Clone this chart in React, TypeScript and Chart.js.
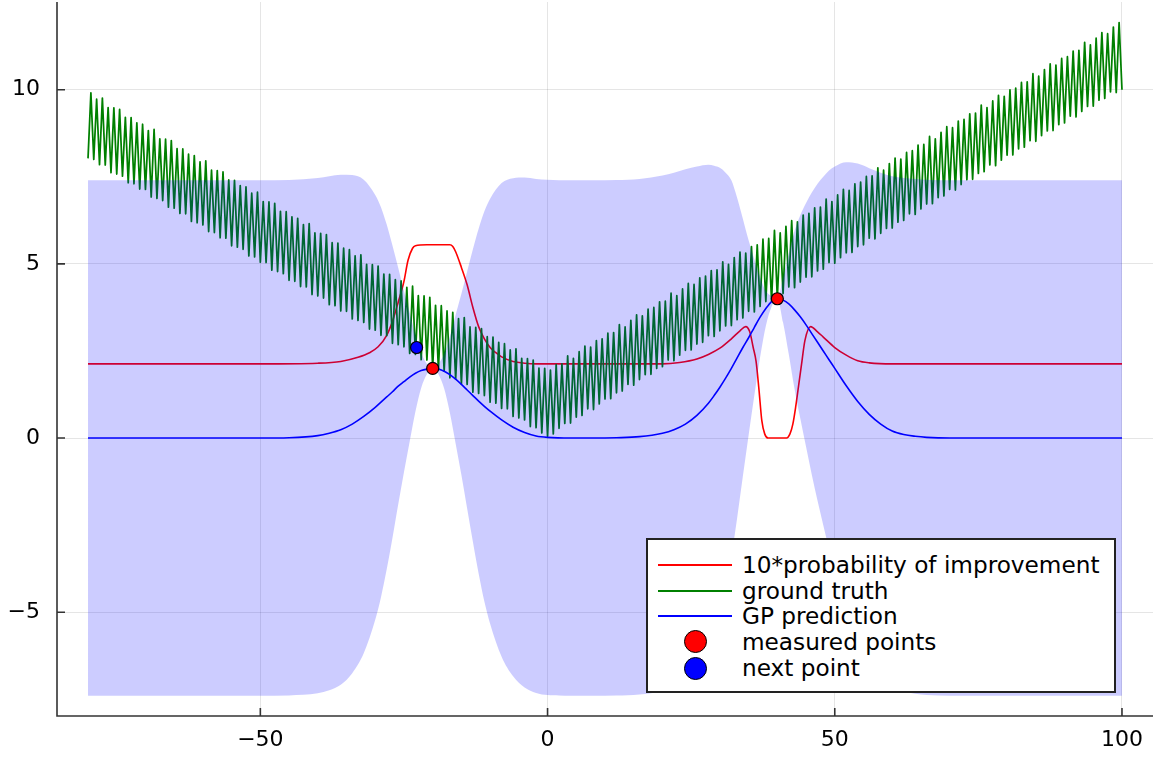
import React, { useEffect, useRef } from "react";
import { Chart, registerables } from "chart.js";

Chart.register(...registerables);

// ---- axis ranges / ticks ----
const X_MIN = -85.4;
const X_MAX = 105.4;
const Y_MIN = -7.98;
const Y_MAX = 12.52;
const X_TICKS = [-50, 0, 50, 100];
const Y_TICKS = [-5, 0, 5, 10];

// ---- GP prediction (mean and ribbon half-width) ----
const GP_X = [
  -80, -60, -50, -45, -40, -38, -36, -34, -32, -30,
  -29, -28, -27, -26, -25, -24, -23, -22, -21, -20,
  -19, -18, -17, -16, -15, -14, -13, -12, -11, -10,
  -8, -6, -4, -2, 0, 4, 8, 12, 16, 20,
  22, 24, 26, 28, 29, 30, 31, 32, 33, 34,
  35, 36, 37, 38, 39, 40, 41, 42, 43, 44,
  45, 46, 47, 48, 49, 50, 52, 54, 56, 58,
  60, 62, 64, 66, 70, 80, 100,
];
const GP_MEAN = [
  0, 0, 0, 0.01, 0.07, 0.14, 0.24, 0.4, 0.62, 0.88,
  1.03, 1.18, 1.33, 1.49, 1.62, 1.75, 1.86, 1.94, 1.98, 2.0,
  1.98, 1.92, 1.82, 1.69, 1.54, 1.38, 1.22, 1.06, 0.91, 0.77,
  0.52, 0.31, 0.16, 0.06, 0.02, 0, 0, 0.01, 0.04, 0.14,
  0.24, 0.4, 0.65, 1.0, 1.22, 1.46, 1.72, 2.0, 2.3, 2.6,
  2.88, 3.18, 3.47, 3.72, 3.92, 4.0, 3.96, 3.85, 3.68, 3.48,
  3.25, 3.0, 2.75, 2.5, 2.25, 2.0, 1.5, 1.05, 0.68, 0.4,
  0.2, 0.1, 0.05, 0.02, 0, 0, 0,
];
const GP_RIBBON = [
  7.4, 7.4, 7.4, 7.4, 7.4, 7.38, 7.32, 7.15, 6.8, 6.1,
  5.6, 4.95, 4.2, 3.4, 2.6, 1.85, 1.1, 0.5, 0.15, 0,
  0.15, 0.5, 1.1, 1.85, 2.6, 3.4, 4.2, 4.95, 5.6, 6.1,
  6.8, 7.15, 7.32, 7.38, 7.4, 7.4, 7.4, 7.4, 7.4, 7.4,
  7.38, 7.32, 7.15, 6.85, 6.6, 6.3, 5.9, 5.4, 4.6, 3.7,
  2.8, 1.95, 1.15, 0.5, 0.15, 0, 0.64, 1.45, 2.27, 2.92,
  3.5, 4.05, 4.55, 5.0, 5.43, 5.8, 6.42, 6.83, 7.07, 7.22,
  7.32, 7.37, 7.39, 7.4, 7.4, 7.4, 7.4,
];

// ---- 10 * probability of improvement ----
const PI_X = [
  -80, -50, -40, -36, -33, -31, -29.5, -28, -27, -26,
  -25, -24.3, -23.5, -23, -21, -19, -17, -16.5, -16, -15,
  -14, -13, -12, -11, -10, -9, -8, -6, -4, -2,
  20, 23, 26, 28, 30, 32, 33.5, 34.5, 35.2, 35.8,
  36.3, 36.8, 37.3, 37.8, 38.4, 41.6, 42.2, 42.7, 43.2, 43.7,
  44.2, 44.8, 45.8, 47, 48, 50, 52, 54, 56, 60,
  100,
];
const PI_Y = [
  2.13, 2.13, 2.15, 2.2, 2.32, 2.45, 2.62, 2.95, 3.35, 3.9,
  4.5, 5.1, 5.45, 5.52, 5.55, 5.55, 5.55, 5.5, 5.35, 4.9,
  4.4, 3.75, 3.2, 2.85, 2.6, 2.45, 2.33, 2.2, 2.15, 2.13,
  2.13, 2.17, 2.27, 2.4, 2.58, 2.85, 3.08, 3.2, 3.05, 2.6,
  2.2, 1.4, 0.5, 0.12, 0.0, 0.0, 0.12, 0.4, 0.9, 1.5,
  2.1, 2.8, 3.2, 3.05, 2.9, 2.6, 2.38, 2.22, 2.16, 2.13,
  2.13,
];

// ---- ground truth: troughs at x = -80, -79, ..., 100 and crests at x = -79.5, ..., 99.5 ----
const GT_X0 = -80;
const GT_DX = 1;
const GT_TROUGH = [
  8.03, 8.0, 7.85, 7.84, 7.62, 7.58, 7.52, 7.33, 7.3, 7.15,
  7.14, 6.92, 6.88, 6.82, 6.63, 6.6, 6.45, 6.44, 6.22, 6.18,
  6.12, 5.93, 5.9, 5.75, 5.74, 5.52, 5.48, 5.42, 5.23, 5.2,
  5.05, 5.04, 4.82, 4.78, 4.72, 4.53, 4.5, 4.35, 4.34, 4.12,
  4.08, 4.02, 3.83, 3.8, 3.65, 3.64, 3.42, 3.38, 3.32, 3.13,
  3.1, 2.95, 2.94, 2.72, 2.68, 2.62, 2.43, 2.4, 2.25, 2.24,
  2.02, 1.98, 1.92, 1.73, 1.7, 1.55, 1.54, 1.32, 1.28, 1.22,
  1.03, 1.0, 0.85, 0.84, 0.62, 0.58, 0.52, 0.33, 0.3, 0.15,
  0.05, 0.12, 0.28, 0.42, 0.43, 0.6, 0.65, 0.84, 0.82, 0.98,
  1.12, 1.13, 1.3, 1.35, 1.54, 1.52, 1.68, 1.82, 1.83, 2.0,
  2.05, 2.24, 2.22, 2.38, 2.52, 2.53, 2.7, 2.75, 2.94, 2.92,
  3.08, 3.22, 3.23, 3.4, 3.45, 3.64, 3.62, 3.78, 3.92, 3.93,
  4.02, 4.15, 4.34, 4.32, 4.48, 4.62, 4.63, 4.8, 4.85, 5.04,
  5.02, 5.18, 5.32, 5.33, 5.5, 5.55, 5.74, 5.72, 5.88, 6.02,
  6.03, 6.2, 6.25, 6.44, 6.42, 6.58, 6.72, 6.73, 6.9, 6.95,
  7.14, 7.12, 7.28, 7.42, 7.43, 7.6, 7.65, 7.84, 7.82, 7.98,
  8.12, 8.13, 8.3, 8.35, 8.54, 8.52, 8.68, 8.82, 8.83, 9.0,
  9.05, 9.24, 9.22, 9.38, 9.52, 9.53, 9.7, 9.75, 9.94, 9.92,
  10.0,
];
const GT_CREST = [
  9.91, 9.73, 9.76, 9.49, 9.48, 9.44, 9.21, 9.2, 9.05, 9.01,
  8.83, 8.86, 8.59, 8.58, 8.54, 8.31, 8.3, 8.15, 8.11, 7.93,
  7.96, 7.69, 7.68, 7.64, 7.41, 7.4, 7.25, 7.21, 7.03, 7.06,
  6.79, 6.78, 6.74, 6.51, 6.5, 6.35, 6.31, 6.13, 6.16, 5.89,
  5.88, 5.84, 5.61, 5.6, 5.45, 5.41, 5.23, 5.26, 4.99, 4.98,
  4.94, 4.71, 4.7, 4.55, 4.51, 4.33, 4.36, 4.09, 4.08, 4.04,
  3.81, 3.8, 3.65, 3.61, 3.43, 3.46, 3.19, 3.18, 3.14, 2.91,
  2.9, 2.75, 2.71, 2.53, 2.56, 2.29, 2.28, 2.24, 2.01, 2.0,
  1.95, 2.11, 2.13, 2.36, 2.29, 2.48, 2.64, 2.61, 2.8, 2.85,
  3.01, 3.03, 3.26, 3.19, 3.38, 3.54, 3.51, 3.7, 3.75, 3.91,
  3.93, 4.16, 4.09, 4.28, 4.44, 4.41, 4.6, 4.65, 4.81, 4.83,
  5.06, 4.99, 5.18, 5.34, 5.31, 5.5, 5.55, 5.71, 5.73, 5.96,
  5.89, 6.08, 6.24, 6.21, 6.4, 6.45, 6.61, 6.63, 6.86, 6.79,
  6.98, 7.14, 7.11, 7.3, 7.35, 7.51, 7.53, 7.76, 7.69, 7.88,
  8.04, 8.01, 8.2, 8.25, 8.41, 8.43, 8.66, 8.59, 8.78, 8.94,
  8.91, 9.1, 9.15, 9.31, 9.33, 9.56, 9.49, 9.68, 9.84, 9.81,
  10.0, 10.05, 10.21, 10.23, 10.46, 10.39, 10.58, 10.74, 10.71, 10.9,
  10.95, 11.11, 11.13, 11.36, 11.29, 11.48, 11.64, 11.61, 11.8, 11.93,
];

// ---- points ----
const MEASURED_X = [-20, 40];
const MEASURED_Y = [2, 4];
const NEXT_X = [-22.8];
const NEXT_Y = [2.6];

const LEGEND_LABELS = [
  "10*probability of improvement",
  "ground truth",
  "GP prediction",
  "measured points",
  "next point",
];

const RED = "rgb(255,0,0)";
const GREEN = "rgb(0,128,0)";
const BLUE = "rgb(0,0,255)";
const BAND = "rgba(0,0,255,0.2)";
const FONT = "'DejaVu Sans', sans-serif";
const AXIS_COLOR = "#333333";

const fmt = (v: number | string) => String(v).replace("-", "\u2212");

const axesPlugin = {
  id: "juliaAxes",
  afterDatasetsDraw(chart: any) {
    const { ctx, chartArea, scales } = chart;
    ctx.save();
    ctx.strokeStyle = AXIS_COLOR;
    ctx.lineWidth = 1.6;
    ctx.beginPath();
    ctx.moveTo(chartArea.left, chartArea.top);
    ctx.lineTo(chartArea.left, chartArea.bottom);
    ctx.lineTo(chartArea.right, chartArea.bottom);
    ctx.stroke();
    const tl = 8;
    ctx.beginPath();
    X_TICKS.forEach((v) => {
      const px = scales.x.getPixelForValue(v);
      ctx.moveTo(px, chartArea.bottom);
      ctx.lineTo(px, chartArea.bottom - tl);
    });
    Y_TICKS.forEach((v) => {
      const py = scales.y.getPixelForValue(v);
      ctx.moveTo(chartArea.left, py);
      ctx.lineTo(chartArea.left + tl, py);
    });
    ctx.stroke();
    ctx.restore();
  },
};

function Legend() {
  const left = 646;
  const top = 538;
  const rowY = [27, 52.7, 78.3, 103.7, 130];
  const kinds = [
    { type: "line", color: RED },
    { type: "line", color: GREEN },
    { type: "line", color: BLUE },
    { type: "dot", color: RED },
    { type: "dot", color: BLUE },
  ];
  return (
    <div
      style={{
        position: "absolute",
        left,
        top,
        width: 470,
        height: 155,
        boxSizing: "border-box",
        border: "2px solid #222",
        background: "#fff",
        fontFamily: FONT,
      }}
    >
      {LEGEND_LABELS.map((label, i) => {
        const k = kinds[i];
        const cy = rowY[i] - 2;
        return (
          <React.Fragment key={label}>
            {k.type === "line" ? (
              <div
                style={{
                  position: "absolute",
                  left: 10,
                  top: cy - 1,
                  width: 74,
                  height: 2,
                  background: k.color,
                }}
              />
            ) : (
              <div
                style={{
                  position: "absolute",
                  left: 47 - 11.5,
                  top: cy - 11.5,
                  width: 23,
                  height: 23,
                  boxSizing: "border-box",
                  borderRadius: "50%",
                  border: "1.5px solid #000",
                  background: k.color,
                }}
              />
            )}
            <div
              style={{
                position: "absolute",
                left: 94,
                top: cy - 14,
                height: 28,
                lineHeight: "28px",
                fontSize: 23.2,
                color: "#000",
                whiteSpace: "nowrap",
              }}
            >
              {label}
            </div>
          </React.Fragment>
        );
      })}
    </div>
  );
}

const zeroPadding = (s: any) => {
  s.paddingTop = 0;
  s.paddingBottom = 0;
  s.paddingLeft = 0;
  s.paddingRight = 0;
};

export default function App() {
  const canvasRef = useRef<HTMLCanvasElement>(null);

  useEffect(() => {
    const gtData: { x: number; y: number }[] = [];
    GT_TROUGH.forEach((y, i) => {
      gtData.push({ x: GT_X0 + i * GT_DX, y });
      if (i < GT_CREST.length) {
        gtData.push({ x: GT_X0 + (i + 0.5) * GT_DX, y: GT_CREST[i] });
      }
    });
    const meanData = GP_X.map((x, i) => ({ x, y: GP_MEAN[i] }));
    const upperData = GP_X.map((x, i) => ({ x, y: GP_MEAN[i] + GP_RIBBON[i] }));
    const lowerData = GP_X.map((x, i) => ({ x, y: GP_MEAN[i] - GP_RIBBON[i] }));
    const piData = PI_X.map((x, i) => ({ x, y: PI_Y[i] }));
    const measured = MEASURED_X.map((x, i) => ({ x, y: MEASURED_Y[i] }));
    const next = NEXT_X.map((x, i) => ({ x, y: NEXT_Y[i] }));

    const tickFont = { family: FONT, size: 22 };

    const chart = new Chart(canvasRef.current as HTMLCanvasElement, {
      type: "line",
      data: {
        datasets: [
          {
            label: LEGEND_LABELS[0],
            data: piData,
            borderColor: RED,
            borderWidth: 1.6,
            pointRadius: 0,
            fill: false,
            cubicInterpolationMode: "monotone",
            order: 5,
          },
          {
            label: LEGEND_LABELS[1],
            data: gtData,
            borderColor: GREEN,
            borderWidth: 1.75,
            pointRadius: 0,
            fill: false,
            tension: 0,
            borderJoinStyle: "round",
            order: 4,
          },
          {
            label: "band upper",
            data: upperData,
            borderWidth: 0,
            borderColor: "rgba(0,0,0,0)",
            backgroundColor: BAND,
            pointRadius: 0,
            fill: "+1",
            cubicInterpolationMode: "monotone",
            order: 3,
          },
          {
            label: "band lower",
            data: lowerData,
            borderWidth: 0,
            borderColor: "rgba(0,0,0,0)",
            pointRadius: 0,
            fill: false,
            cubicInterpolationMode: "monotone",
            order: 3,
          },
          {
            label: LEGEND_LABELS[2],
            data: meanData,
            borderColor: BLUE,
            borderWidth: 1.6,
            pointRadius: 0,
            fill: false,
            cubicInterpolationMode: "monotone",
            order: 2,
          },
          {
            label: LEGEND_LABELS[3],
            data: measured,
            showLine: false,
            pointRadius: 6,
            pointBackgroundColor: RED,
            pointBorderColor: "#000",
            pointBorderWidth: 1.2,
            order: 1,
          },
          {
            label: LEGEND_LABELS[4],
            data: next,
            showLine: false,
            pointRadius: 6,
            pointBackgroundColor: BLUE,
            pointBorderColor: "#000",
            pointBorderWidth: 1.2,
            order: 0,
          },
        ],
      } as any,
      options: {
        animation: false,
        responsive: false,
        devicePixelRatio: 1,
        events: [],
        layout: { autoPadding: false, padding: { left: 0, right: 15, top: 2, bottom: 0 } },
        plugins: {
          legend: { display: false },
          tooltip: { enabled: false },
          filler: { propagate: false },
        },
        scales: {
          x: {
            type: "linear",
            min: X_MIN,
            max: X_MAX,
            afterBuildTicks: (s: any) => {
              s.ticks = X_TICKS.map((v) => ({ value: v }));
            },
            afterFit: (s: any) => {
              s.height = 42;
              zeroPadding(s);
            },
            grid: { color: "rgba(0,0,0,0.1)", lineWidth: 1, drawTicks: false },
            border: { display: false },
            ticks: {
              padding: 11,
              color: "#000",
              font: tickFont,
              maxRotation: 0,
              autoSkip: false,
              callback: (v: any) => fmt(v),
            },
          },
          y: {
            type: "linear",
            min: Y_MIN,
            max: Y_MAX,
            afterBuildTicks: (s: any) => {
              s.ticks = Y_TICKS.map((v) => ({ value: v }));
            },
            afterFit: (s: any) => {
              s.width = 57;
              zeroPadding(s);
            },
            grid: { color: "rgba(0,0,0,0.1)", lineWidth: 1, drawTicks: false },
            border: { display: false },
            ticks: {
              padding: 17,
              color: "#000",
              font: tickFont,
              autoSkip: false,
              callback: (v: any) => fmt(v),
            },
          },
        },
      } as any,
      plugins: [axesPlugin],
    });

    return () => chart.destroy();
  }, []);

  return (
    <div
      style={{
        position: "fixed",
        left: 0,
        top: 0,
        width: 1168,
        height: 758,
        background: "#fff",
        overflow: "hidden",
      }}
    >
      <canvas
        ref={canvasRef}
        width={1168}
        height={758}
        style={{ display: "block", width: 1168, height: 758 }}
      />
      <Legend />
    </div>
  );
}
